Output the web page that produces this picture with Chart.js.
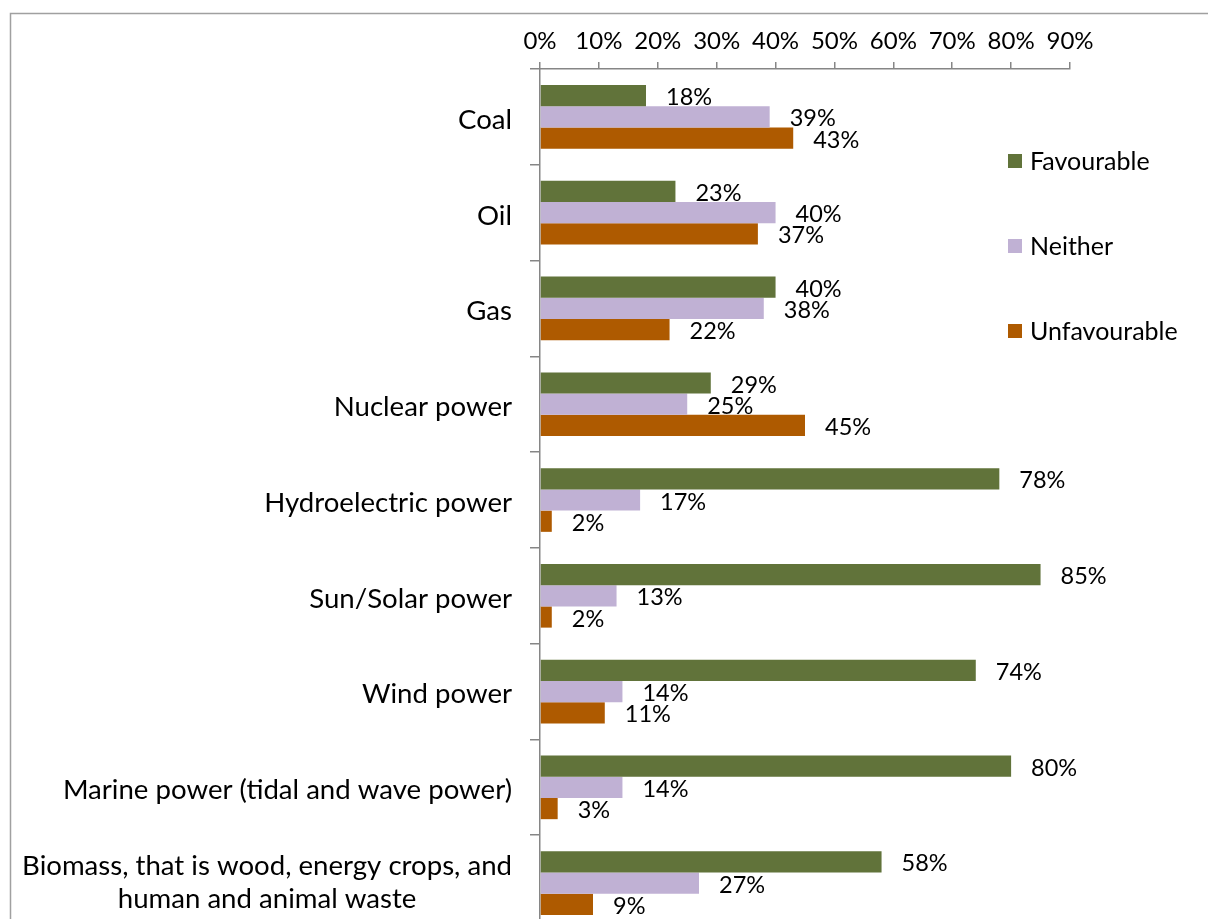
<!DOCTYPE html>
<html>
<head>
<meta charset="utf-8">
<title>Energy sources</title>
<script src="https://cdn.jsdelivr.net/npm/chart.js@4.4.1/dist/chart.umd.min.js"></script>
<style>
  html, body { margin: 0; padding: 0; background: #fff; overflow: hidden; }
  #wrap { position: relative; width: 1208px; height: 940px; }
</style>
</head>
<body>
<div id="wrap"><canvas id="chart"></canvas></div>
<script>
const categories = [
  ['Coal'],
  ['Oil'],
  ['Gas'],
  ['Nuclear power'],
  ['Hydroelectric power'],
  ['Sun/Solar power'],
  ['Wind power'],
  ['Marine power (tidal and wave power)'],
  ['Biomass, that is wood, energy crops, and', 'human and animal waste']
]
const seriesNames = ['Favourable', 'Neither', 'Unfavourable']
const favourable = [18, 23, 40, 29, 78, 85, 74, 80, 58]
const neither = [39, 40, 38, 25, 17, 13, 14, 14, 27]
const unfavourable = [43, 37, 22, 45, 2, 2, 11, 3, 9]
const xTicks = [0, 10, 20, 30, 40, 50, 60, 70, 80, 90]

const colors = ['#61733a', '#c0b1d4', '#ae5a00']
const axisGray = '#868686'
const font = 'Lato, "Open Sans", sans-serif'

// outer frame of the chart object (runs off the page like the original)
const framePlugin = {
  id: 'frame',
  beforeDraw(chart) {
    const ctx = chart.ctx
    ctx.save()
    ctx.strokeStyle = '#a0a0a0'
    ctx.lineWidth = 1.5
    ctx.strokeRect(10.5, 13.5, 1400, 1200)
    ctx.restore()
  }
}

// category labels: right aligned, wrapped lines centred on each other
const categoryLabels = {
  id: 'categoryLabels',
  afterDraw(chart) {
    const ctx = chart.ctx
    const y = chart.scales.y
    const right = chart.chartArea.left - 28
    ctx.save()
    ctx.font = '27.6px ' + font
    ctx.fillStyle = '#000'
    ctx.textBaseline = 'middle'
    ctx.textAlign = 'center'
    categories.forEach((lines, i) => {
      const cy = y.getPixelForValue(i) + 3 - (lines.length - 1) * 4
      const w = Math.max(...lines.map(l => ctx.measureText(l).width))
      lines.forEach((l, j) => {
        ctx.fillText(l, right - w / 2, cy + (j - (lines.length - 1) / 2) * 33)
      })
    })
    ctx.restore()
  }
}

// value labels just past the end of each bar
const valueLabels = {
  id: 'valueLabels',
  afterDatasetsDraw(chart) {
    const ctx = chart.ctx
    ctx.save()
    ctx.font = '23.5px ' + font
    ctx.fillStyle = '#000'
    ctx.textBaseline = 'middle'
    ctx.textAlign = 'left'
    chart.data.datasets.forEach((ds, di) => {
      chart.getDatasetMeta(di).data.forEach((bar, i) => {
        ctx.fillText(ds.data[i] + '%', bar.x + 20, bar.y + 2)
      })
    })
    ctx.restore()
  }
}

// legend sitting over the right side of the plot, like excel does
const legendPlugin = {
  id: 'sideLegend',
  afterDraw(chart) {
    const ctx = chart.ctx
    ctx.save()
    ctx.font = '25px ' + font
    ctx.textBaseline = 'middle'
    ctx.textAlign = 'left'
    chart.data.datasets.forEach((ds, i) => {
      const cy = 161 + i * 85
      ctx.fillStyle = ds.backgroundColor
      ctx.fillRect(1008, cy - 7, 14, 14)
      ctx.fillStyle = '#000'
      ctx.fillText(ds.label, 1030, cy + 1)
    })
    ctx.restore()
  }
}

const ctx = document.getElementById('chart').getContext('2d')
const myChart = new Chart(ctx, {
  type: 'bar',
  data: {
    labels: categories,
    datasets: [
      { label: seriesNames[0], data: favourable, backgroundColor: colors[0] },
      { label: seriesNames[1], data: neither, backgroundColor: colors[1] },
      { label: seriesNames[2], data: unfavourable, backgroundColor: colors[2] }
    ]
  },
  options: {
    indexAxis: 'y',
    responsive: true,
    maintainAspectRatio: false,
    animation: false,
    layout: { padding: { top: 0, left: 0, right: 138, bottom: 9 } },
    datasets: {
      bar: { categoryPercentage: 0.665, barPercentage: 1.0, borderWidth: 0 }
    },
    plugins: {
      legend: { display: false },
      tooltip: { enabled: false }
    },
    scales: {
      x: {
        position: 'top',
        min: xTicks[0],
        max: xTicks[xTicks.length - 1],
        afterBuildTicks: s => { s.ticks = xTicks.map(v => ({ value: v })) },
        afterFit: s => { s.height = 69 },
        ticks: {
          callback: v => v + '%',
          color: '#000',
          font: { family: font, size: 24 },
          padding: 6,
          maxRotation: 0
        },
        grid: { drawOnChartArea: false, drawTicks: true, tickLength: 7, color: axisGray, lineWidth: 1.5 },
        border: { color: axisGray, width: 1.5 }
      },
      y: {
        afterFit: s => { s.width = 540 },
        ticks: { display: false },
        grid: { offset: true, drawOnChartArea: false, drawTicks: true, tickLength: 10, color: axisGray, lineWidth: 1.5 },
        border: { color: axisGray, width: 1.5 }
      }
    }
  },
  plugins: [framePlugin, categoryLabels, valueLabels, legendPlugin]
})
</script>
</body>
</html>
